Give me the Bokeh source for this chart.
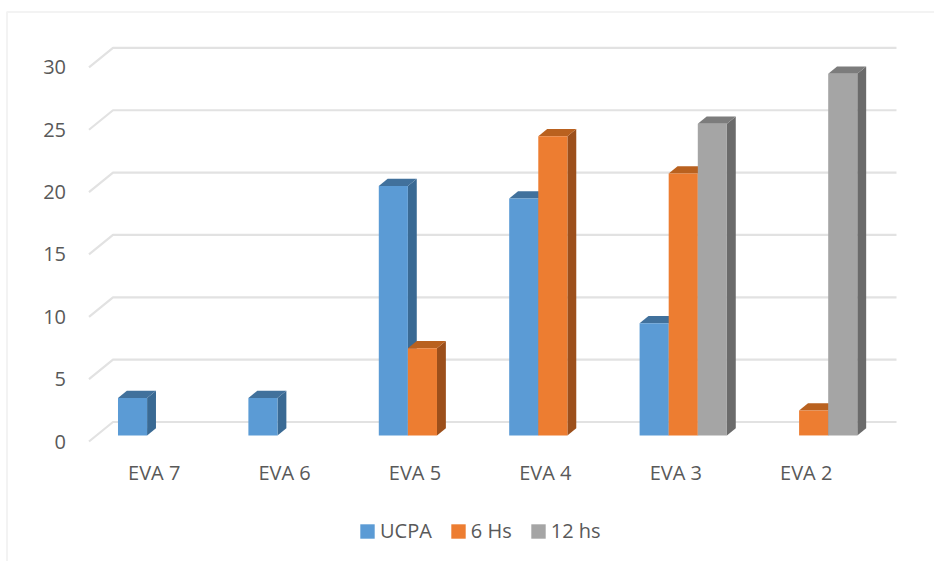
from bokeh.embed import file_html
from bokeh.resources import INLINE
from bokeh.plotting import figure
from bokeh.models import BoxAnnotation, Legend, LegendItem, FixedTicker

# Chart data
categories = ["EVA 7", "EVA 6", "EVA 5", "EVA 4", "EVA 3", "EVA 2"]
ucpa = [3, 3, 20, 19, 9, None]
hs6 = [None, None, 7, 24, 21, 2]
hs12 = [None, None, None, None, 25, 29]
y_ticks = [0, 5, 10, 15, 20, 25, 30]

series_names = ["UCPA", "6 Hs", "12 hs"]
series_values = [ucpa, hs6, hs12]
front_colors = ["#5B9BD5", "#ED7D31", "#A5A5A5"]
side_colors = ["#3A6A94", "#9C4F1B", "#6B6B6B"]
top_colors = ["#41719C", "#B9611F", "#7C7C7C"]

FONT = "Open Sans"
TEXT = "#595959"
GRID = "#E2E2E2"

# Pixel scale of the plotting frame, which fills the whole canvas
W, H = 934, 561
PX_X = 130.4           # one category
PX_Y = 12.47           # one value unit
ZERO_PX = 441          # value 0 on the front plane
LEFT_PX = 88.5         # left end of the first category
FLOOR_DX = 24.0 / PX_X  # oblique depth of the floor
FLOOR_DY = 19.5 / PX_Y

x0 = -0.5 - LEFT_PX / PX_X
x1 = x0 + W / PX_X
y0 = -(H - ZERO_PX) / PX_Y
y1 = ZERO_PX / PX_Y

p = figure(width=W, height=H, x_range=(x0, x1), y_range=(y0, y1),
           output_backend="svg", toolbar_location=None,
           min_border=0, outline_line_color=None,
           background_fill_color="white", border_fill_color="white")
p.grid.visible = False

# Oblique gridlines: short diagonal on the side wall, long run on the back wall
back_end = x0 + 896 / PX_X
grid_xs, grid_ys = [], []
for t in y_ticks:
    grid_xs.append([-0.5, -0.5 + FLOOR_DX, back_end])
    grid_ys.append([t, t + FLOOR_DY, t + FLOOR_DY])
p.multi_line(grid_xs, grid_ys, line_color=GRID, line_width=2.2)

# Boxes sit partway through the floor depth
D_FRONT = 0.31
D_BACK = 0.68
BAR_W = 29.1 / PX_X
GROUP_LEFT = -1.5 * BAR_W

legend_items = []
for s, vals in enumerate(series_values):
    front_renderer = None
    for i, v in enumerate(vals):
        if v is None:
            continue
        left = i + GROUP_LEFT + s * BAR_W + D_FRONT * FLOOR_DX
        right = left + BAR_W
        base = D_FRONT * FLOOR_DY
        top = v + base
        ddx = (D_BACK - D_FRONT) * FLOOR_DX
        ddy = (D_BACK - D_FRONT) * FLOOR_DY
        p.patch([right, right + ddx, right + ddx, right], [base, base + ddy, top + ddy, top],
                fill_color=side_colors[s], line_color=None)
        p.patch([left, left + ddx, right + ddx, right], [top, top + ddy, top + ddy, top],
                fill_color=top_colors[s], line_color=None)
        front = p.quad(left=left, right=right, bottom=base, top=top,
                       fill_color=front_colors[s], line_color=None)
        front_renderer = front_renderer or front
    legend_items.append(LegendItem(label=series_names[s], renderers=[front_renderer]))

# Axes carry only their labels and sit inside the frame
p.yaxis.fixed_location = -0.5
p.yaxis.ticker = FixedTicker(ticks=y_ticks)
p.yaxis.axis_line_color = None
p.yaxis.major_tick_line_color = None
p.yaxis.minor_tick_line_color = None
p.yaxis.major_label_text_font = FONT
p.yaxis.major_label_text_font_size = "20px"
p.yaxis.major_label_text_color = TEXT
p.yaxis.major_label_standoff = 17

p.xaxis.fixed_location = 1 / PX_Y
p.xaxis.ticker = FixedTicker(ticks=list(range(len(categories))))
p.xaxis.major_label_overrides = {i: c for i, c in enumerate(categories)}
p.xaxis.axis_line_color = None
p.xaxis.major_tick_line_color = None
p.xaxis.minor_tick_line_color = None
p.xaxis.major_label_text_font = FONT
p.xaxis.major_label_text_font_size = "20px"
p.xaxis.major_label_text_color = TEXT
p.xaxis.major_label_standoff = 12

legend = Legend(items=legend_items, orientation="horizontal",
                location=(358, 17), border_line_color=None,
                background_fill_alpha=0, label_text_font=FONT,
                label_text_font_size="20px", label_text_color=TEXT,
                glyph_width=18, glyph_height=18, spacing=17, padding=0,
                label_standoff=4, margin=0)
p.add_layout(legend)

# Chart-area border: only its top and left edges fall inside the canvas
p.add_layout(BoxAnnotation(left=6.5, right=960, top=11.5, bottom=600,
                           left_units="canvas", right_units="canvas",
                           top_units="canvas", bottom_units="canvas",
                           fill_alpha=0, line_color="#D6D6D6", line_width=2))

open("out.html", "w").write(file_html(p, INLINE))
